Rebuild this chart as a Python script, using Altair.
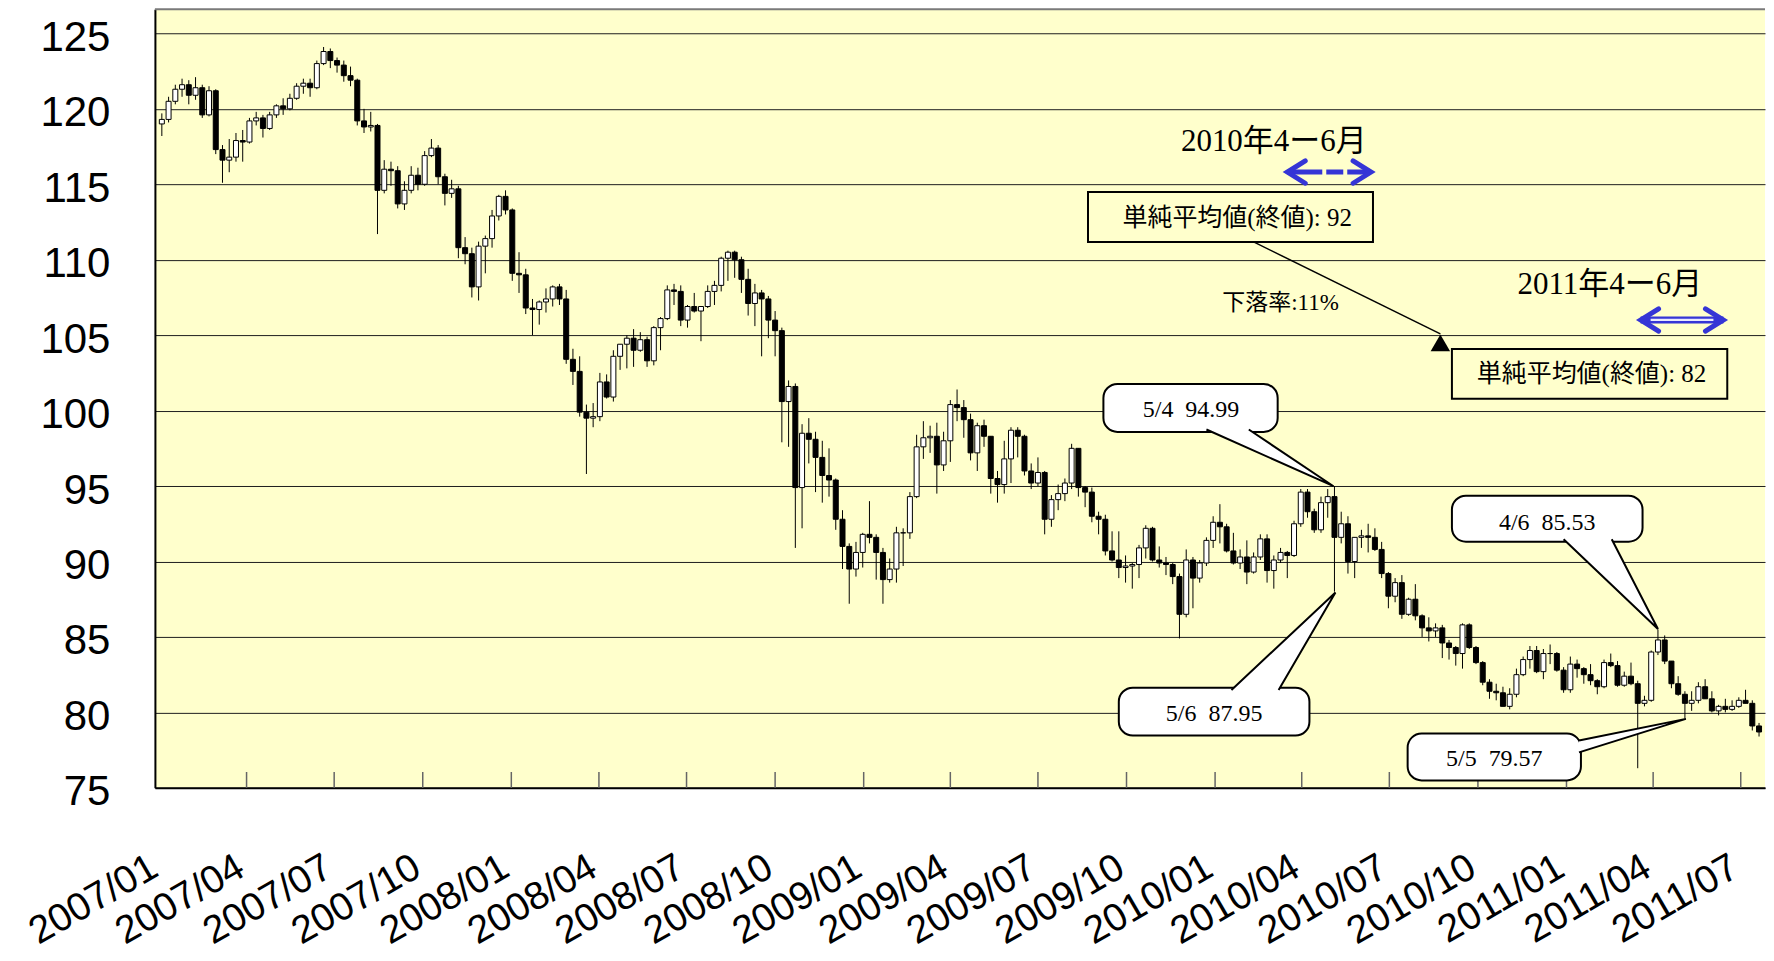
import altair as alt
import pandas as pd

# ---------------- data (weekly candles) ----------------
opens = [
    # 2007
    119.0, 119.3, 120.5, 121.3, 121.6, 120.9, 121.4, 119.6, 121.2, 117.3, 116.6, 116.8, 117.9,
    117.8, 119.2, 119.4, 118.7, 119.6, 120.2, 120.0, 120.7, 121.5, 121.7, 121.4, 123.0, 123.8,
    123.2, 122.9, 122.2, 121.9, 119.2, 118.8, 118.9, 114.6, 116.0, 115.9, 113.7, 114.6, 115.6,
    115.0, 116.9, 117.4, 115.5, 114.4, 114.7, 110.8, 110.4, 108.2, 110.9, 111.4, 112.9, 114.2, 113.3,
    # 2008
    109.1, 109.0, 106.8, 106.7, 107.2, 107.4, 108.2, 107.4, 103.4, 102.6, 99.9, 99.5, 99.6,
    101.9, 100.9, 103.6, 104.4, 104.8, 104.0, 104.7, 103.3, 105.5, 106.1, 108.0, 107.9, 106.0,
    106.9, 106.6, 106.9, 107.9, 108.3, 110.1, 110.5, 110.0, 108.7, 107.1, 107.8, 107.4, 106.0,
    105.3, 100.6, 101.6, 94.9, 98.5, 98.1, 96.9, 95.7, 95.4, 92.8, 91.0, 89.5, 90.6,
    # 2009
    91.8, 91.6, 90.6, 88.8, 89.5, 91.9, 91.9, 94.3, 97.6, 98.2, 98.3, 96.4, 98.0,
    100.4, 100.2, 99.4, 97.2, 99.0, 98.3, 95.5, 95.1, 96.8, 98.7, 98.3, 96.0, 95.2,
    95.9, 92.8, 94.1, 94.5, 95.2, 97.5, 94.9, 94.6, 93.0, 92.8, 90.7, 90.1, 89.6,
    89.7, 89.8, 90.9, 92.2, 90.1, 89.9, 89.8, 89.0, 86.5, 90.1, 88.9, 89.9, 91.4,
    # 2010
    92.6, 92.3, 90.7, 89.9, 90.3, 89.3, 90.3, 91.5, 89.4, 90.1, 90.6, 90.4, 92.5,
    94.6, 93.3, 92.1, 93.9, 94.3, 91.6, 92.5, 90.0, 91.6, 91.7, 91.6, 90.8, 89.2,
    87.7, 88.6, 86.5, 87.5, 86.4, 85.6, 85.4, 85.6, 84.6, 84.3, 83.9, 85.8, 84.3,
    83.3, 82.0, 81.4, 81.3, 80.4, 81.2, 82.5, 83.5, 84.1, 82.7, 83.9, 83.9, 82.8,
    # 2011
    81.5, 83.2, 82.9, 82.5, 82.1, 81.7, 83.3, 83.1, 81.8, 82.4, 81.9, 80.6, 80.8,
    84.0, 84.8, 83.4, 81.9, 81.2, 80.6, 80.8, 81.7, 80.9, 80.1, 80.4, 80.2, 80.4,
    80.8, 80.6, 79.1,
]
highs = [
    # 2007
    119.7, 120.8, 121.6, 122.0, 121.9, 122.1, 121.6, 121.5, 121.3, 117.6, 118.0, 118.4, 118.6,
    119.4, 119.8, 119.6, 119.8, 120.3, 120.7, 121.0, 121.7, 122.0, 122.0, 123.2, 124.1, 124.0,
    123.4, 123.2, 122.8, 122.0, 120.0, 119.8, 119.0, 116.6, 116.5, 116.2, 115.2, 116.2, 116.1,
    117.2, 118.0, 117.6, 115.7, 115.3, 114.9, 111.5, 110.8, 111.2, 111.6, 113.3, 114.3, 114.6, 113.4,
    # 2008
    110.5, 109.4, 107.4, 107.3, 108.1, 108.3, 108.4, 108.0, 104.1, 103.6, 100.4, 100.5, 102.5,
    102.4, 104.0, 104.4, 105.0, 105.4, 105.2, 104.9, 105.6, 106.2, 108.3, 108.4, 108.3, 107.0,
    107.8, 106.8, 108.3, 108.6, 110.2, 110.6, 110.6, 110.2, 109.4, 108.4, 108.0, 107.6, 106.6,
    105.5, 102.0, 101.8, 99.1, 99.5, 98.6, 98.0, 97.5, 95.5, 93.4, 91.2, 91.3, 91.9,
    # 2009
    94.0, 91.8, 90.9, 90.2, 92.3, 92.2, 94.6, 98.4, 99.3, 99.0, 99.2, 98.6, 100.7,
    101.4, 100.7, 99.8, 99.2, 99.4, 98.3, 96.0, 98.0, 98.9, 98.9, 98.4, 96.5, 96.9,
    96.0, 94.4, 95.1, 95.5, 97.8, 97.5, 95.0, 94.9, 93.3, 93.1, 92.0, 92.0, 90.4,
    89.9, 91.1, 92.4, 92.3, 91.0, 90.3, 89.9, 89.2, 90.8, 90.3, 90.1, 91.6, 93.0,
    # 2010
    93.8, 92.5, 91.9, 90.8, 91.4, 90.6, 91.8, 91.8, 90.4, 90.9, 90.7, 92.7, 94.8,
    94.8, 93.5, 94.3, 94.8, 95.0, 93.3, 93.0, 91.6, 92.1, 92.5, 92.2, 91.3, 89.3,
    88.9, 89.1, 87.6, 88.5, 86.5, 86.3, 85.9, 85.8, 84.8, 84.4, 85.9, 85.9, 84.4,
    83.4, 82.2, 81.9, 81.7, 81.6, 82.9, 83.7, 84.4, 84.4, 84.2, 84.5, 84.0, 83.0,
    # 2011
    83.7, 83.5, 83.0, 83.2, 82.2, 83.5, 83.9, 83.4, 82.7, 83.3, 82.1, 81.1, 84.1,
    85.5, 85.1, 83.4, 82.4, 81.4, 81.4, 82.0, 82.2, 81.4, 80.5, 80.9, 80.8, 81.0,
    81.5, 80.8, 79.3,
]
lows = [
    # 2007
    118.2, 119.1, 120.3, 120.8, 120.3, 120.6, 119.4, 119.5, 117.0, 115.1, 115.8, 116.5, 116.5,
    117.7, 118.9, 118.1, 118.6, 119.4, 119.6, 119.9, 120.6, 121.0, 120.8, 121.3, 122.9, 122.7,
    122.4, 121.8, 121.5, 118.9, 118.4, 118.5, 111.7, 114.4, 114.9, 113.4, 113.3, 114.4, 114.6,
    114.9, 116.8, 115.0, 113.6, 114.1, 110.1, 109.7, 107.5, 107.3, 109.1, 110.8, 112.6, 113.0, 108.6,
    # 2008
    107.8, 106.4, 105.0, 105.7, 106.5, 106.9, 107.0, 103.1, 101.7, 99.6, 95.8, 98.9, 99.3,
    100.8, 100.6, 102.7, 102.8, 102.9, 103.9, 102.9, 103.0, 104.0, 106.0, 107.0, 105.6, 105.5,
    106.5, 104.6, 106.8, 107.0, 107.9, 108.6, 108.8, 107.8, 106.3, 105.6, 103.6, 104.8, 103.6,
    97.9, 97.6, 90.9, 92.2, 96.5, 94.6, 93.9, 94.3, 92.1, 89.5, 87.2, 89.0, 89.6,
    # 2009
    91.2, 88.8, 87.2, 88.6, 88.6, 89.7, 91.5, 94.2, 96.8, 97.2, 94.5, 96.0, 96.6,
    99.3, 98.2, 96.7, 96.0, 97.6, 94.5, 93.9, 94.5, 95.2, 96.9, 95.7, 94.8, 95.0,
    91.8, 92.3, 93.4, 94.0, 94.8, 94.3, 93.6, 92.6, 91.8, 90.4, 90.0, 88.9, 88.6,
    88.2, 88.9, 90.2, 90.0, 89.6, 89.1, 88.5, 84.9, 86.3, 86.9, 88.6, 89.7, 90.9,
    # 2010
    91.2, 90.6, 89.8, 89.5, 88.5, 89.2, 90.1, 88.6, 88.2, 89.9, 88.9, 90.3, 92.3,
    92.9, 91.9, 91.9, 92.9, 88.0, 91.2, 89.2, 88.9, 90.9, 90.6, 90.7, 88.9, 86.9,
    87.3, 86.2, 86.4, 86.1, 85.0, 84.7, 85.0, 83.6, 83.5, 83.1, 82.9, 84.2, 83.2,
    81.8, 80.9, 80.8, 80.4, 80.2, 81.0, 82.4, 82.9, 82.6, 82.2, 83.2, 82.7, 81.3,
    # 2011
    81.3, 82.3, 81.9, 81.8, 81.2, 81.6, 83.0, 81.7, 81.7, 81.8, 76.3, 80.4, 80.7,
    83.8, 83.2, 81.6, 81.1, 79.6, 80.1, 80.6, 80.9, 80.0, 79.8, 80.0, 80.1, 80.3,
    80.6, 78.8, 78.4,
]
closes = [
    # 2007
    119.3, 120.5, 121.3, 121.6, 120.9, 121.4, 119.6, 121.2, 117.3, 116.6, 116.8, 117.9, 117.8,
    119.2, 119.4, 118.7, 119.6, 120.2, 120.0, 120.7, 121.5, 121.7, 121.4, 123.0, 123.8, 123.2,
    122.9, 122.2, 121.9, 119.2, 118.8, 118.9, 114.6, 116.0, 115.9, 113.7, 114.6, 115.6, 115.0,
    116.9, 117.4, 115.5, 114.4, 114.7, 110.8, 110.4, 108.2, 110.9, 111.4, 112.9, 114.2, 113.3, 109.1,
    # 2008
    109.0, 106.8, 106.7, 107.2, 107.4, 108.2, 107.4, 103.4, 102.6, 99.9, 99.5, 99.6, 101.9,
    100.9, 103.6, 104.4, 104.8, 104.0, 104.7, 103.3, 105.5, 106.1, 108.0, 107.9, 106.0, 106.9,
    106.6, 106.9, 107.9, 108.3, 110.1, 110.5, 110.0, 108.7, 107.1, 107.8, 107.4, 106.0, 105.3,
    100.6, 101.6, 94.9, 98.5, 98.1, 96.9, 95.7, 95.4, 92.8, 91.0, 89.5, 90.6, 91.8,
    # 2009
    91.6, 90.6, 88.8, 89.5, 91.9, 91.9, 94.3, 97.6, 98.2, 98.3, 96.4, 98.0, 100.4,
    100.2, 99.4, 97.2, 99.0, 98.3, 95.5, 95.1, 96.8, 98.7, 98.3, 96.0, 95.2, 95.9,
    92.8, 94.1, 94.5, 95.2, 97.5, 94.9, 94.6, 93.0, 92.8, 90.7, 90.1, 89.6, 89.7,
    89.8, 90.9, 92.2, 90.1, 89.9, 89.8, 89.0, 86.5, 90.1, 88.9, 89.9, 91.4, 92.6,
    # 2010
    92.3, 90.7, 89.9, 90.3, 89.3, 90.3, 91.5, 89.4, 90.1, 90.6, 90.4, 92.5, 94.6,
    93.3, 92.1, 93.9, 94.3, 91.6, 92.5, 90.0, 91.6, 91.7, 91.6, 90.8, 89.2, 87.7,
    88.6, 86.5, 87.5, 86.4, 85.6, 85.4, 85.6, 84.6, 84.3, 83.9, 85.8, 84.3, 83.3,
    82.0, 81.4, 81.3, 80.4, 81.2, 82.5, 83.5, 84.1, 82.7, 83.9, 83.9, 82.8, 81.5,
    # 2011
    83.2, 82.9, 82.5, 82.1, 81.7, 83.3, 83.1, 81.8, 82.4, 81.9, 80.6, 80.8, 84.0,
    84.8, 83.4, 81.9, 81.2, 80.6, 80.8, 81.7, 80.9, 80.1, 80.4, 80.2, 80.4, 80.8,
    80.6, 79.1, 78.7,
]

tick_labels = ["2007/01", "2007/04", "2007/07", "2007/10", "2008/01", "2008/04", "2008/07",
               "2008/10", "2009/01", "2009/04", "2009/07", "2009/10", "2010/01", "2010/04",
               "2010/07", "2010/10", "2011/01", "2011/04", "2011/07"]
y_ticks = [75, 80, 85, 90, 95, 100, 105, 110, 115, 120, 125]

# annotations (data coordinates)
callout_labels = ["5/4\u00a0\u00a094.99", "5/6\u00a0\u00a087.95", "4/6\u00a0\u00a085.53", "5/5\u00a0\u00a079.57"]
callout_tips_date = ["2010-05-04", "2010-05-06", "2011-04-06", "2011-05-05"]
callout_tips_value = [94.99, 87.95, 85.53, 79.57]

# ---------------- layout constants ----------------
W, H = 1611, 779
Y_MIN, Y_MAX = 75, 126.6
AX_FONT = "Liberation Sans Narrow, Arial Narrow, Liberation Sans, sans-serif"
SERIF_JP = "Liberation Serif, Times New Roman, Noto Sans CJK JP, serif"
BLUE = "#3535D6"

week_start = pd.date_range("2007-01-01", periods=len(closes), freq="7D")
candles = pd.DataFrame({
    "date": (week_start + pd.Timedelta(days=2)).strftime("%Y-%m-%d"),
    "open": opens, "high": highs, "low": lows, "close": closes,
})

tick_dates = [alt.DateTime(year=int(s[:4]), month=int(s[5:]), date=1) for s in tick_labels]
ticks_df = pd.DataFrame({"date": [s.replace("/", "-") + "-01" for s in tick_labels[1:]]})

x_scale = alt.Scale(domain=[alt.DateTime(year=2007, month=1, date=1),
                            alt.DateTime(year=2011, month=7, date=21)])
y_scale = alt.Scale(domain=[Y_MIN, Y_MAX], nice=False, zero=False)

x_axis = alt.Axis(values=tick_dates, format="%Y/%m", labelAngle=-30, labelAlign="right",
                  labelBaseline="middle", labelPadding=76, labelOffset=-6,
                  labelFont=AX_FONT, labelFontSize=39, labelColor="black",
                  labelFlush=False, labelOverlap=False, ticks=False, grid=False,
                  domainColor="black", domainWidth=2, title=None)
y_axis = alt.Axis(values=y_ticks, labelFont=AX_FONT, labelFontSize=42, labelColor="black",
                  labelPadding=45, labelOffset=4, ticks=False, grid=True, gridColor="#1e1e1e",
                  gridWidth=1, domainColor="black", domainWidth=2, title=None,
                  minExtent=147, maxExtent=147)


def X(field):
    return alt.X(f"{field}:T", scale=x_scale, title=None)


def Y(field):
    return alt.Y(f"{field}:Q", scale=y_scale, title=None)


# frame on top
top_frame = alt.Chart(pd.DataFrame({"v": [Y_MAX]})).mark_rule(color="#7a7a7a", strokeWidth=2).encode(
    y=Y("v"))

# inner quarter ticks
tick_rules = alt.Chart(ticks_df).mark_rule(color="#666666", strokeWidth=1.5).encode(
    x=X("date"), y=alt.datum(75.0), y2=alt.datum(76.05))

wicks = alt.Chart(candles).mark_rule(color="black", strokeWidth=1).encode(
    x=alt.X("date:T", scale=x_scale, axis=x_axis, title=None),
    y=alt.Y("low:Q", scale=y_scale, axis=y_axis, title=None),
    y2="high:Q",
)
bodies = alt.Chart(candles).mark_bar(size=5, stroke="black", strokeWidth=1).encode(
    x=X("date"), y=Y("open"), y2="close:Q",
    fill=alt.condition("datum.close >= datum.open", alt.value("white"), alt.value("black")),
)

# average boxes
boxes = pd.DataFrame({
    "x1": ["2009-08-22", "2010-09-04"], "x2": ["2010-06-14", "2011-06-17"],
    "y1": [114.49, 104.09], "y2": [111.18, 100.78],
    "tx": ["2010-01-24", "2011-01-27"], "ty": [112.77, 102.44],
    "label": ["単純平均値(終値): 92", "単純平均値(終値): 82"],
})
box_rects = alt.Chart(boxes).mark_rect(fillOpacity=0, stroke="black", strokeWidth=2).encode(
    x=X("x1"), x2="x2:T", y=Y("y1"), y2="y2:Q")
box_text = alt.Chart(boxes).mark_text(font=SERIF_JP, fontSize=25, color="black").encode(
    x=X("tx"), y=Y("ty"), text="label:N")

connector = alt.Chart(pd.DataFrame({"x1": ["2010-02-10"], "x2": ["2010-08-23"],
                                    "y1": [111.18], "y2": [105.09]})).mark_rule(
    color="black", strokeWidth=1.5).encode(x=X("x1"), x2="x2:T", y=Y("y1"), y2="y2:Q")
arrow_head = alt.Chart(pd.DataFrame({"x": ["2010-08-23"], "y": [104.49]})).mark_point(
    shape="triangle-up", filled=True, color="black", size=380, opacity=1).encode(x=X("x"), y=Y("y"))

texts = pd.DataFrame({
    "x": ["2010-03-03", "2011-02-15", "2010-03-10"],
    "y": [117.83, 108.30, 107.11],
    "label": ["2010年4ー6月", "2011年4ー6月", "下落率:11%"],
    "size": [31, 31, 23],
})
period_text = alt.Chart(texts).mark_text(font=SERIF_JP, color="black").encode(
    x=X("x"), y=Y("y"), text="label:N", size=alt.Size("size:Q", scale=None, legend=None))

# blue period arrows
arrows = pd.DataFrame({"x1": ["2010-03-17", "2011-03-19"], "x2": ["2010-06-12", "2011-06-13"],
                       "y": [115.81, 106.01]})
arrow1 = alt.Chart(arrows.iloc[[0]]).mark_rule(color=BLUE, strokeWidth=5,
                                                strokeDash=[35, 4, 17, 4, 30]).encode(
    x=X("x1"), x2="x2:T", y=Y("y"))
arrow2 = alt.Chart(arrows.iloc[[1]]).mark_rule(color=BLUE, strokeWidth=7).encode(
    x=X("x1"), x2="x2:T", y=Y("y"))
arrow2_in = alt.Chart(arrows.iloc[[1]]).mark_rule(color="#e8e8ff", strokeWidth=2.2,
                                                   xOffset=10, x2Offset=-10).encode(
    x=X("x1"), x2="x2:T", y=Y("y"))
left_heads = alt.Chart(arrows).mark_point(shape="M0.8,-1L-0.8,0L0.8,1", filled=False, color=BLUE,
                                          strokeWidth=5, size=500, opacity=1, xOffset=9,
                                          strokeCap="round", strokeJoin="miter").encode(
    x=X("x1"), y=Y("y"))
right_heads = alt.Chart(arrows).mark_point(shape="M-0.8,-1L0.8,0L-0.8,1", filled=False, color=BLUE,
                                           strokeWidth=5, size=500, opacity=1, xOffset=-9,
                                           strokeCap="round", strokeJoin="miter").encode(
    x=X("x2"), y=Y("y"))

# callouts
callouts = pd.DataFrame({
    "x1": ["2009-09-07", "2009-09-23", "2010-09-04", "2010-07-20"],
    "x2": ["2010-03-07", "2010-04-09", "2011-03-21", "2011-01-16"],
    "y1": [101.77, 81.64, 94.36, 78.60],
    "y2": [98.59, 78.46, 91.31, 75.49],
    "tx": ["2009-12-07", "2009-12-31", "2010-12-12", "2010-10-18"],
    "ty": [100.02, 79.92, 92.57, 76.94],
    "label": callout_labels,
})
tails = pd.DataFrame({
    "id": ["a", "a", "a", "b", "b", "b", "c", "c", "c", "d", "d", "d"],
    "seq": [0, 1, 2] * 4,
    "x": ["2009-12-23", callout_tips_date[0], "2010-02-05",
          "2010-01-18", callout_tips_date[1], "2010-03-08",
          "2010-12-29", callout_tips_date[2], "2011-02-17",
          "2011-01-14", callout_tips_date[3], "2011-01-14"],
    "y": [98.75, callout_tips_value[0], 98.75,
          81.48, callout_tips_value[1], 81.48,
          91.47, callout_tips_value[2], 91.47,
          78.14, callout_tips_value[3], 77.35],
})
callout_rects = alt.Chart(callouts).mark_rect(fill="white", stroke="black", strokeWidth=2,
                                              cornerRadius=14).encode(
    x=X("x1"), x2="x2:T", y=Y("y1"), y2="y2:Q")
callout_tails = alt.Chart(tails).mark_line(fill="white", stroke="black", strokeWidth=2,
                                           strokeJoin="miter").encode(
    x=X("x"), y=Y("y"), detail="id:N", order="seq:Q")
callout_text = alt.Chart(callouts).mark_text(font=SERIF_JP, fontSize=24, color="black").encode(
    x=X("tx"), y=Y("ty"), text="label:N")

chart = alt.layer(
    wicks, bodies, top_frame, tick_rules,
    box_rects, box_text, connector, arrow_head, period_text,
    arrow1, arrow2, arrow2_in, left_heads, right_heads,
    callout_rects, callout_tails, callout_text,
).properties(width=W, height=H, padding=0).configure_view(
    fill="#FFFFCC", strokeWidth=0
)

chart.save("out.html", embed_options={"renderer": "svg", "actions": False})
